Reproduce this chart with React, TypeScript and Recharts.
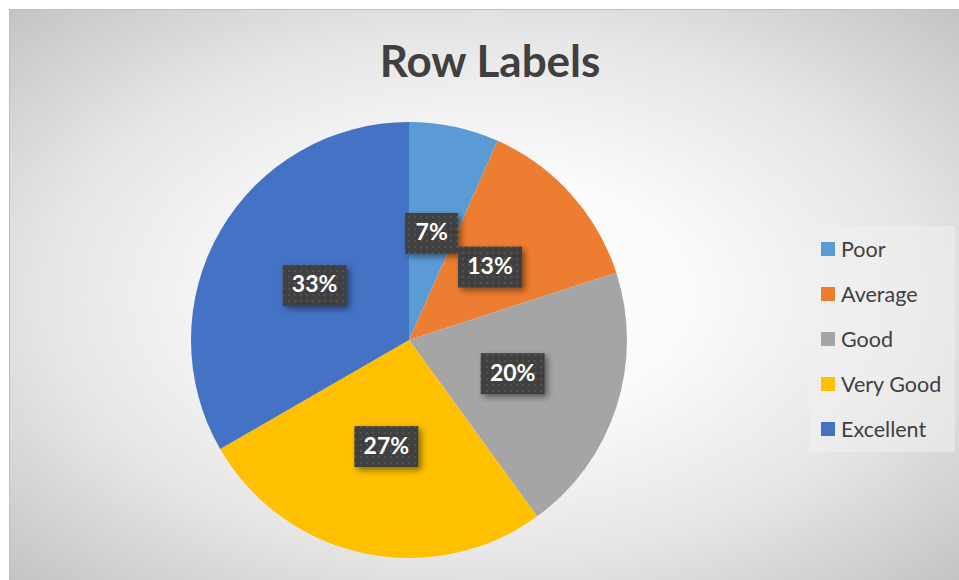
import { PieChart, Pie, Cell, Legend } from "recharts";

const categories = ["Poor", "Average", "Good", "Very Good", "Excellent"];
const counts = [1, 2, 3, 4, 5];
const colors = ["#5B9BD5", "#ED7D31", "#A5A5A5", "#FFC000", "#4472C4"];

const data = categories.map((name, i) => ({ name, value: counts[i] }));

const RAD = Math.PI / 180;

const renderLabel = (props: any) => {
  const { cx, cy, midAngle, percent } = props;
  const r = 109;
  const x = cx + r * Math.cos(-midAngle * RAD);
  const y = cy + r * Math.sin(-midAngle * RAD);
  const text = `${Math.round(percent * 100)}%`;
  const digits = text.length - 1;
  const w = 42 + 11 * digits;
  const h = 41;
  return (
    <g>
      <rect
        x={x - w / 2}
        y={y - h / 2}
        width={w}
        height={h}
        fill="url(#dotPattern)"
        filter="url(#labelShadow)"
      />
      <text
        x={x}
        y={y + 1}
        textAnchor="middle"
        dominantBaseline="middle"
        fill="#ffffff"
        fontFamily="Lato, 'Open Sans', sans-serif"
        fontWeight={700}
        fontSize={23}
      >
        {text}
      </text>
    </g>
  );
};

// legend drawn from the category arrays, in data order
const renderLegend = () => (
  <div
    style={{
      width: 145,
      height: 226,
      background: "rgba(240,240,240,0.55)",
      boxSizing: "border-box",
      paddingTop: 0,
    }}
  >
    {categories.map((name, i) => (
      <div
        key={name}
        style={{
          display: "flex",
          alignItems: "center",
          height: 45,
          paddingLeft: 11,
        }}
      >
        <span
          style={{
            width: 14,
            height: 14,
            background: colors[i],
            display: "inline-block",
            marginRight: 6,
          }}
        />
        <span
          style={{
            fontFamily: "Lato, 'Open Sans', sans-serif",
            fontSize: 21.5,
            color: "#404040",
            lineHeight: "22px",
          }}
        >
          {name}
        </span>
      </div>
    ))}
  </div>
);

export default function App() {
  return (
    <div
      style={{
        position: "absolute",
        left: 9,
        top: 9,
        width: 949,
        height: 570,
        borderLeft: "1px solid #bfbfbf",
        borderTop: "1px solid #bfbfbf",
        overflow: "hidden",
        background:
          "radial-gradient(ellipse farthest-corner at 50% 50%, #ffffff 0%, #fbfbfb 30%, #e6e6e6 65%, #c4c4c4 100%)",
      }}
    >
      <div
        style={{
          position: "absolute",
          left: 0,
          top: 26,
          width: 960,
          textAlign: "center",
          fontFamily: "Lato, 'Open Sans', sans-serif",
          fontWeight: 700,
          fontSize: 44,
          color: "#404040",
          lineHeight: "48px",
        }}
      >
        Row Labels
      </div>
      <PieChart
        width={949}
        height={570}
        margin={{ top: 0, right: 0, bottom: 0, left: 0 }}
      >
        <defs>
          <pattern
            id="dotPattern"
            width={6}
            height={6}
            patternUnits="userSpaceOnUse"
          >
            <rect width={6} height={6} fill="#404040" />
            <circle cx={3} cy={3} r={1.1} fill="#555555" />
          </pattern>
          <filter id="labelShadow" x="-30%" y="-30%" width="160%" height="160%">
            <feDropShadow
              dx={3}
              dy={3}
              stdDeviation={3}
              floodColor="#000000"
              floodOpacity={0.45}
            />
          </filter>
        </defs>
        <Pie
          data={data}
          dataKey="value"
          nameKey="name"
          cx={399}
          cy={330}
          outerRadius={218}
          startAngle={90}
          endAngle={-270}
          stroke="none"
          label={renderLabel}
          labelLine={false}
          isAnimationActive={false}
        >
          {data.map((d, i) => (
            <Cell key={d.name} fill={colors[i]} />
          ))}
        </Pie>
        <Legend
          layout="vertical"
          content={renderLegend}
          wrapperStyle={{ left: 800, top: 216, width: 145, height: 226 }}
        />
      </PieChart>
    </div>
  );
}
